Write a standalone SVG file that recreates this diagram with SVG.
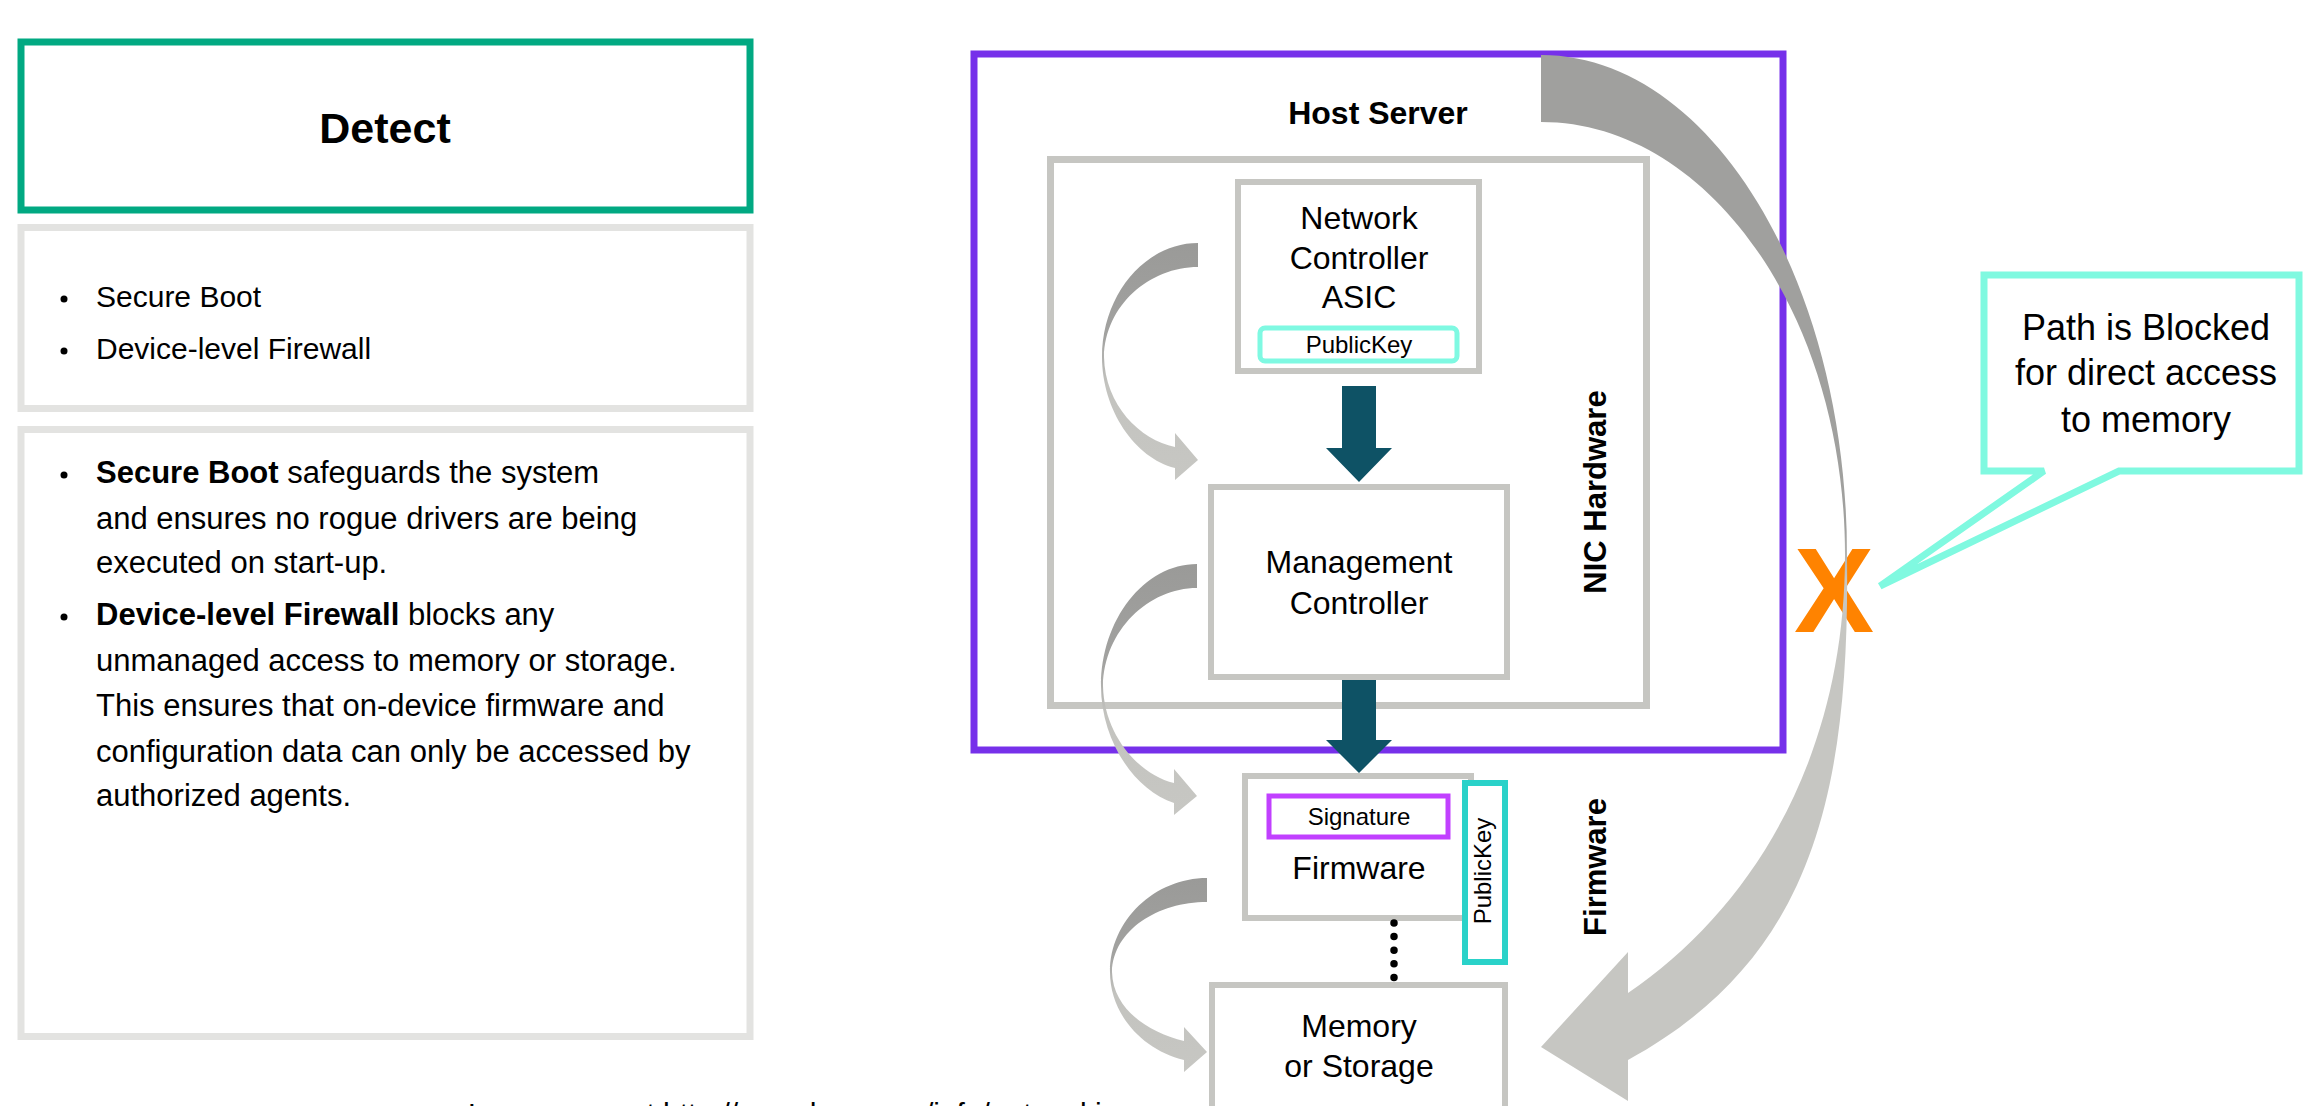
<svg xmlns="http://www.w3.org/2000/svg" width="2303" height="1106" viewBox="0 0 2303 1106">
  <defs>
    <style>
      text { font-family: "Liberation Sans", Arial, sans-serif; fill: #000; }
      .b { font-weight: bold; }
      .panel { fill: #fff; stroke: #E3E3E1; stroke-width: 7; }
      .gbox { fill: #fff; stroke: #C6C6C2; stroke-width: 6; }
      .body { font-size: 31px; }
      .node { font-size: 32px; text-anchor: middle; }
      .teal { fill: #0E5265; }
    </style>
    <linearGradient id="gSmall" x1="0" y1="0" x2="0" y2="1">
      <stop offset="0" stop-color="#9A9A98"/>
      <stop offset="0.4" stop-color="#A2A2A0"/>
      <stop offset="0.6" stop-color="#C3C3BF"/>
      <stop offset="1" stop-color="#C7C7C3"/>
    </linearGradient>
    <linearGradient id="gBig" gradientUnits="userSpaceOnUse" x1="0" y1="530" x2="0" y2="580">
      <stop offset="0" stop-color="#A0A09E"/>
      <stop offset="1" stop-color="#C6C6C2"/>
    </linearGradient>
  </defs>
  <rect x="0" y="0" width="2303" height="1106" fill="#fff"/>

  <!-- Left panel -->
  <g id="detect-title">
    <rect x="21" y="42" width="729" height="168" fill="#fff" stroke="#01A982" stroke-width="7"/>
    <text x="385" y="143" class="b" font-size="43" text-anchor="middle">Detect</text>
  </g>
  <g id="detect-list">
    <rect class="panel" x="21" y="227.5" width="729" height="181"/>
    <circle cx="64" cy="299" r="3.5"/>
    <text x="96" y="307" font-size="30">Secure Boot</text>
    <circle cx="64" cy="351" r="3.5"/>
    <text x="96" y="359" font-size="30">Device-level Firewall</text>
  </g>
  <g id="detect-description">
    <rect class="panel" x="21" y="429.5" width="729" height="607"/>
    <circle cx="64" cy="475" r="3.5"/>
    <text class="body" x="96" y="483"><tspan class="b">Secure Boot</tspan> safeguards the system</text>
    <text class="body" x="96" y="529">and ensures no rogue drivers are being</text>
    <text class="body" x="96" y="573">executed on start-up.</text>
    <circle cx="64" cy="617" r="3.5"/>
    <text class="body" x="96" y="625"><tspan class="b">Device-level Firewall</tspan> blocks any</text>
    <text class="body" x="96" y="671">unmanaged access to memory or storage.</text>
    <text class="body" x="96" y="716">This ensures that on-device firmware and</text>
    <text class="body" x="96" y="762">configuration data can only be accessed by</text>
    <text class="body" x="96" y="806">authorized agents.</text>
  </g>

  <!-- Containers -->
  <g id="host-server">
    <rect x="974" y="54" width="809" height="696" fill="none" stroke="#7630EA" stroke-width="7"/>
    <text x="1378" y="124" class="b" font-size="32" text-anchor="middle">Host Server</text>
  </g>
  <g id="nic-hardware">
    <rect x="1050.5" y="159.5" width="596" height="546" fill="none" stroke="#C6C6C2" stroke-width="7"/>
    <text transform="translate(1606,492) rotate(-90)" class="b" font-size="31" text-anchor="middle">NIC Hardware</text>
  </g>
  <g id="firmware-label">
    <text transform="translate(1606,867) rotate(-90)" class="b" font-size="31" text-anchor="middle">Firmware</text>
  </g>

  <!-- Nodes -->
  <g id="network-controller-asic">
    <rect class="gbox" x="1238" y="182" width="241" height="189"/>
    <text class="node" x="1359" y="229" font-size="33">Network</text>
    <text class="node" x="1359" y="269" font-size="33">Controller</text>
    <text class="node" x="1359" y="308" font-size="33">ASIC</text>
    <rect x="1260" y="328" width="197" height="33" rx="5" fill="#fff" stroke="#7FF9E2" stroke-width="5"/>
    <text x="1359" y="353" font-size="24" text-anchor="middle">PublicKey</text>
  </g>
  <g id="management-controller">
    <rect class="gbox" x="1211" y="487" width="296" height="190"/>
    <text class="node" x="1359" y="573">Management</text>
    <text class="node" x="1359" y="614">Controller</text>
  </g>
  <g id="firmware">
    <rect class="gbox" x="1245" y="776" width="226" height="142"/>
    <rect x="1269" y="796" width="179" height="41" fill="#fff" stroke="#C140FF" stroke-width="5"/>
    <text x="1359" y="825" font-size="24" text-anchor="middle">Signature</text>
    <text class="node" x="1359" y="879">Firmware</text>
  </g>
  <g id="firmware-publickey">
    <rect x="1465" y="783" width="40" height="179" fill="#fff" stroke="#2AD2C9" stroke-width="6"/>
    <text transform="translate(1491,871) rotate(-90)" font-size="24" text-anchor="middle">PublicKey</text>
  </g>
  <g id="memory-storage">
    <rect class="gbox" x="1212" y="985" width="293" height="150"/>
    <text class="node" x="1359" y="1037">Memory</text>
    <text class="node" x="1359" y="1077">or Storage</text>
  </g>
  <g id="blocked-x">
    <text x="1834" y="632" class="b" font-size="120" text-anchor="middle" style="fill:#FF8300">X</text>
  </g>

  <!-- Connectors -->
  <g id="connectors">
    <path class="teal" d="M1342 386 L1376 386 L1376 448 L1392 448 L1359 482 L1326 448 L1342 448 Z"/>
    <path class="teal" d="M1342 680 L1376 680 L1376 740 L1392 740 L1359 773 L1326 740 L1342 740 Z"/>
    <path fill="url(#gSmall)" d="M1198 243 C1145 243 1102 295 1102 357 C1102 410 1135 458 1175 468 L1175 480 L1198 460 L1175 433 L1175 447 C1140 440 1105 405 1104 357 C1105 305 1150 267 1198 267 Z"/>
    <path fill="url(#gSmall)" d="M1197 564 C1144 564 1101 620 1101 686 C1101 740 1134 790 1174 803 L1174 815 L1197 796 L1174 769 L1174 783 C1139 775 1104 735 1103 686 C1104 630 1149 588 1197 588 Z"/>
    <path fill="url(#gSmall)" d="M1207 878 C1155 878 1110 920 1110 972 C1110 1015 1143 1050 1184 1060 L1184 1072 L1207 1052 L1184 1027 L1184 1041 C1150 1033 1113 1010 1112 972 C1113 930 1158 902 1207 902 Z"/>
    <line x1="1394" y1="923" x2="1394" y2="978" stroke="#000" stroke-width="7.5" stroke-linecap="round" stroke-dasharray="0 13.6"/>
    <path fill="url(#gBig)" d="M1541 55 C1710 55 1847 280 1847 555 C1850 800 1810 960 1628 1060 L1628 1101 L1541 1047 L1628 952 L1628 993 C1750 910 1845 760 1845 555 C1845 316 1709 122 1541 122 Z"/>
  </g>

  <!-- Callout -->
  <g id="callout">
    <path d="M1984 275 L2299 275 L2299 471 L2119 471 L1880 586 L2044 471 L1984 471 Z" fill="#fff" stroke="#80F9E0" stroke-width="7" stroke-linejoin="miter" stroke-miterlimit="3"/>
    <text x="2146" y="340" font-size="36" text-anchor="middle">Path is Blocked</text>
    <text x="2146" y="385" font-size="36" text-anchor="middle">for direct access</text>
    <text x="2146" y="432" font-size="36" text-anchor="middle">to memory</text>
  </g>

  <g id="footer">
    <text x="468" y="1124" font-size="30">Learn more at http://www.hpe.com/info/networking</text>
  </g>
</svg>
